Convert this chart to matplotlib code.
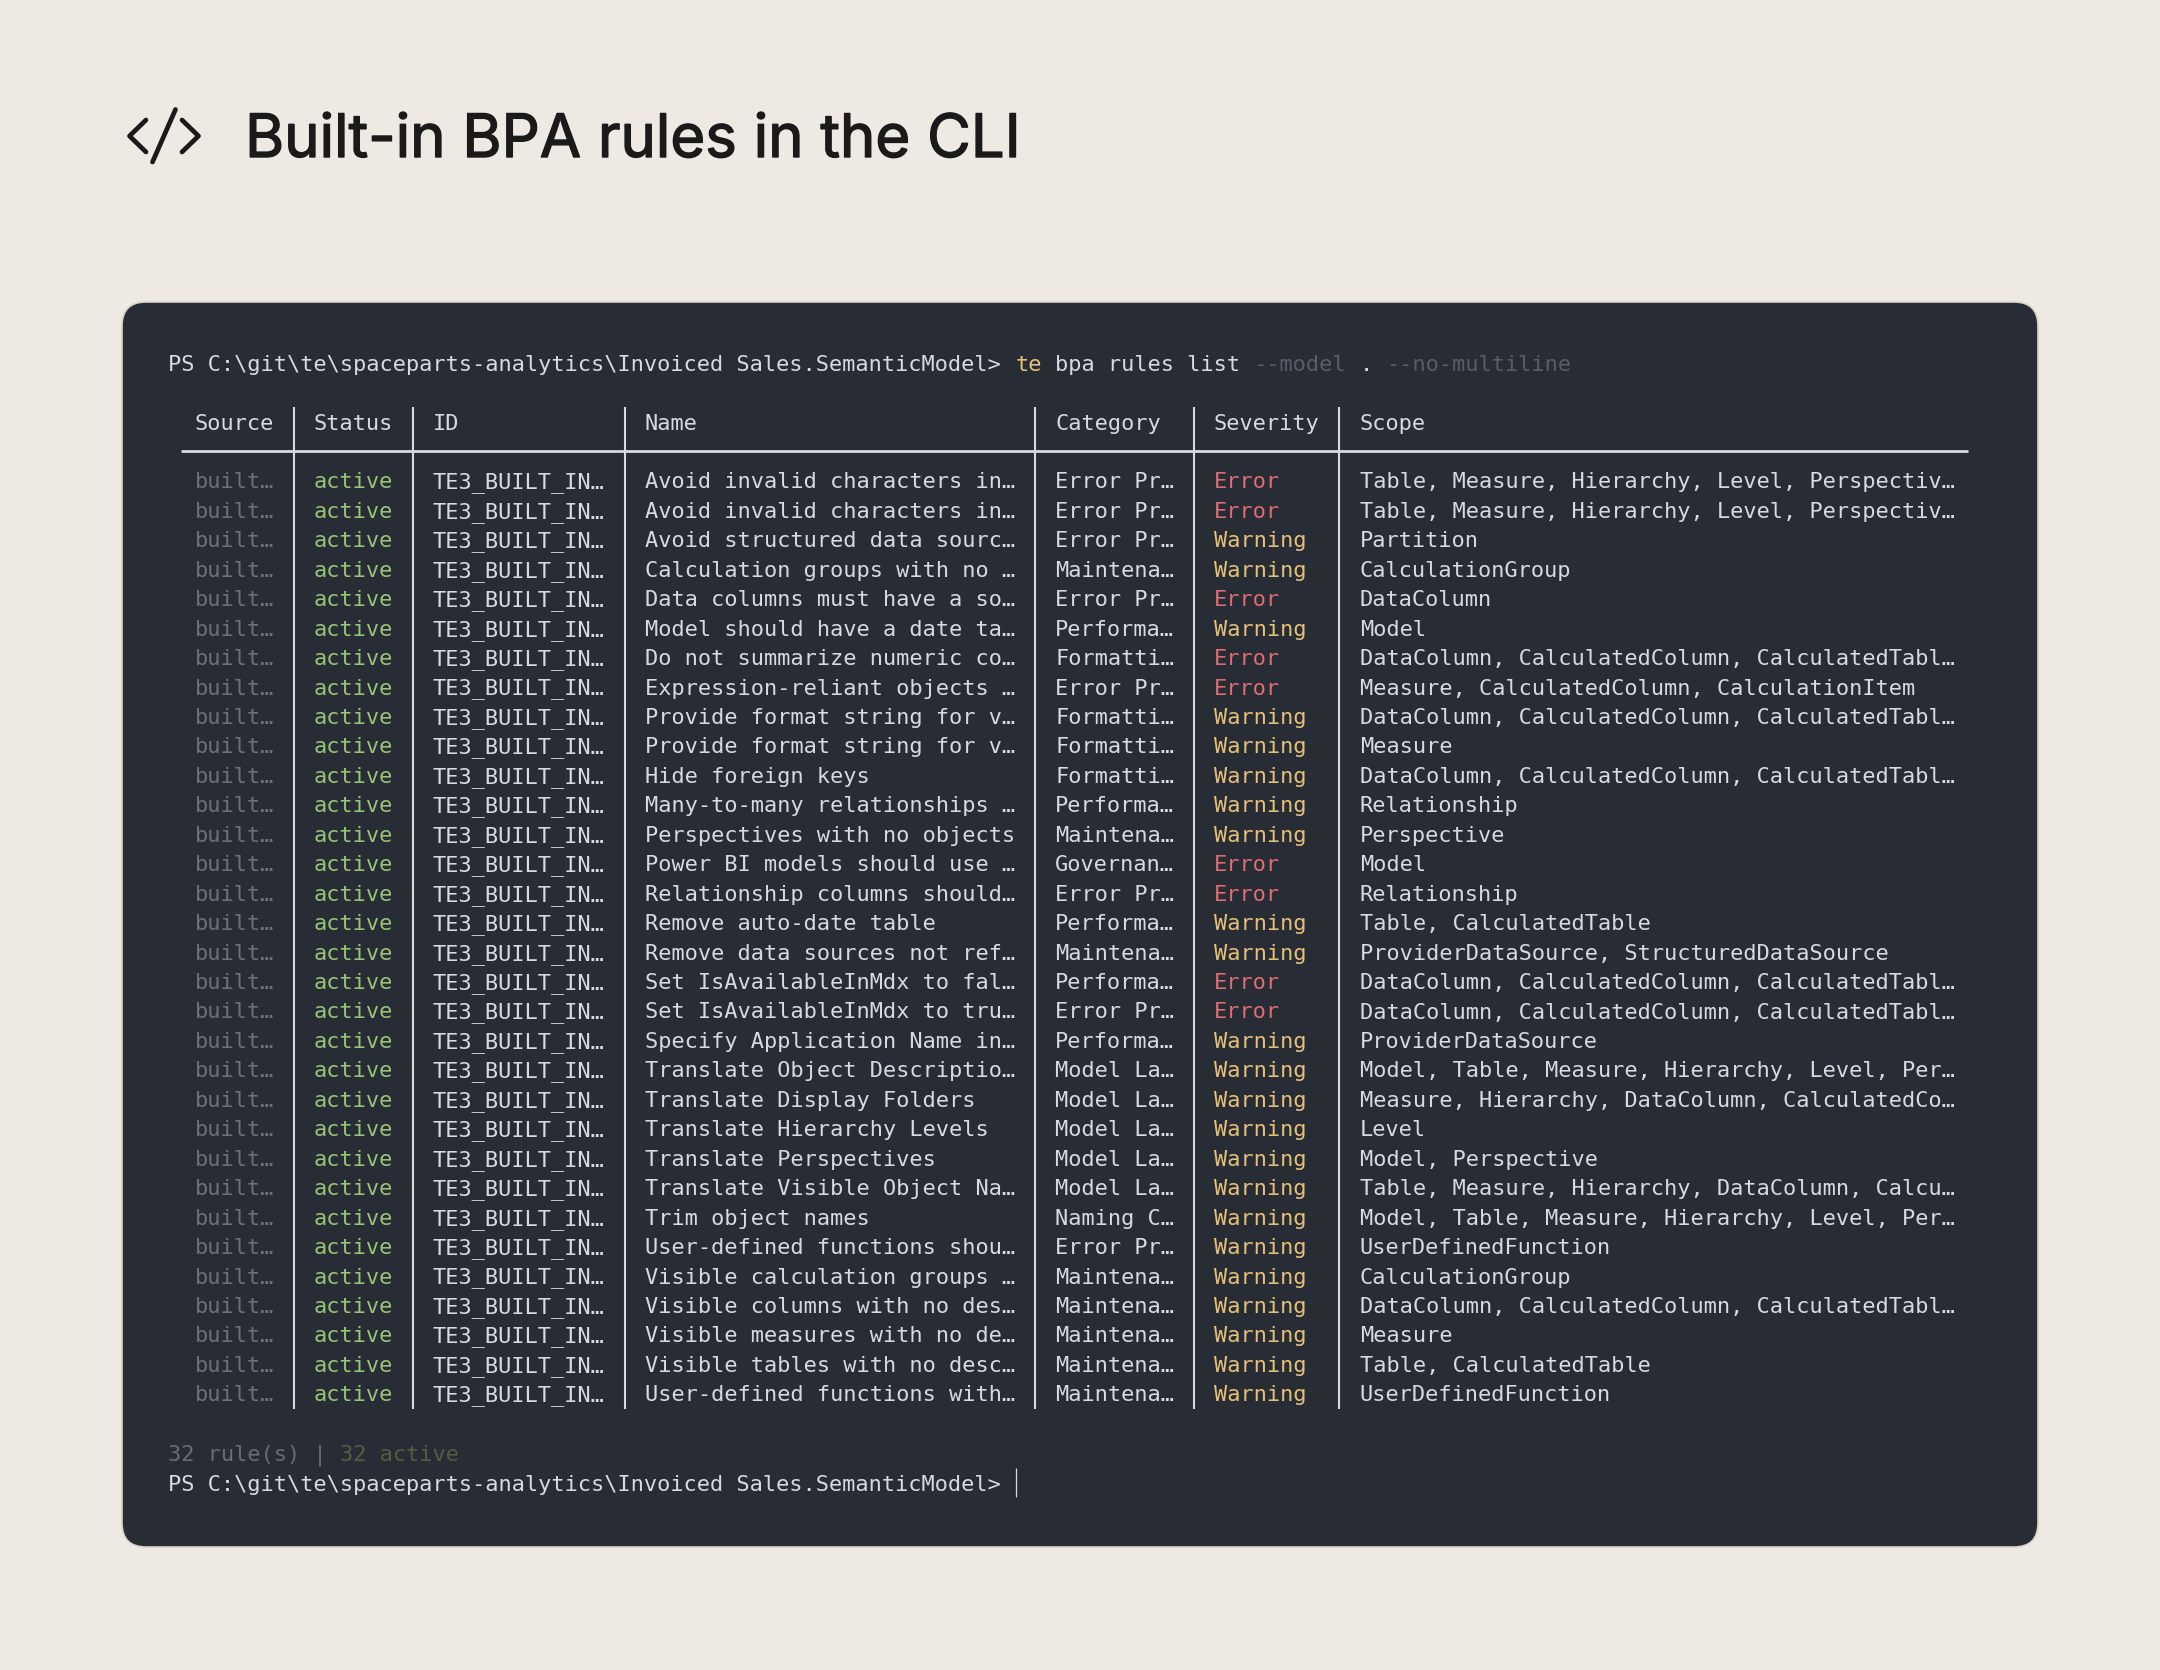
#!/usr/bin/env python3

"""Terminal screenshot style card: built-in BPA rules listed by the CLI."""

import matplotlib

matplotlib.use("Agg")
import matplotlib.patheffects as pe
import matplotlib.pyplot as plt
from matplotlib.patches import FancyBboxPatch

TITLE = "Built-in BPA rules in the CLI"
PROMPT = r"PS C:\git\te\spaceparts-analytics\Invoiced Sales.SemanticModel>"

HEADERS = ["Source", "Status", "ID", "Name", "Category", "Severity", "Scope"]

NAMES = [
    "Avoid invalid characters in…",
    "Avoid invalid characters in…",
    "Avoid structured data sourc…",
    "Calculation groups with no …",
    "Data columns must have a so…",
    "Model should have a date ta…",
    "Do not summarize numeric co…",
    "Expression-reliant objects …",
    "Provide format string for v…",
    "Provide format string for v…",
    "Hide foreign keys",
    "Many-to-many relationships …",
    "Perspectives with no objects",
    "Power BI models should use …",
    "Relationship columns should…",
    "Remove auto-date table",
    "Remove data sources not ref…",
    "Set IsAvailableInMdx to fal…",
    "Set IsAvailableInMdx to tru…",
    "Specify Application Name in…",
    "Translate Object Descriptio…",
    "Translate Display Folders",
    "Translate Hierarchy Levels",
    "Translate Perspectives",
    "Translate Visible Object Na…",
    "Trim object names",
    "User-defined functions shou…",
    "Visible calculation groups …",
    "Visible columns with no des…",
    "Visible measures with no de…",
    "Visible tables with no desc…",
    "User-defined functions with…",
]

CATEGORIES = [
    "Error Pr…", "Error Pr…", "Error Pr…", "Maintena…", "Error Pr…", "Performa…",
    "Formatti…", "Error Pr…", "Formatti…", "Formatti…", "Formatti…", "Performa…",
    "Maintena…", "Governan…", "Error Pr…", "Performa…", "Maintena…", "Performa…",
    "Error Pr…", "Performa…", "Model La…", "Model La…", "Model La…", "Model La…",
    "Model La…", "Naming C…", "Error Pr…", "Maintena…", "Maintena…", "Maintena…",
    "Maintena…", "Maintena…",
]

SEVERITIES = [
    "Error", "Error", "Warning", "Warning", "Error", "Warning", "Error", "Error",
    "Warning", "Warning", "Warning", "Warning", "Warning", "Error", "Error", "Warning",
    "Warning", "Error", "Error", "Warning", "Warning", "Warning", "Warning", "Warning",
    "Warning", "Warning", "Warning", "Warning", "Warning", "Warning", "Warning", "Warning",
]

SCOPES = [
    "Table, Measure, Hierarchy, Level, Perspectiv…",
    "Table, Measure, Hierarchy, Level, Perspectiv…",
    "Partition",
    "CalculationGroup",
    "DataColumn",
    "Model",
    "DataColumn, CalculatedColumn, CalculatedTabl…",
    "Measure, CalculatedColumn, CalculationItem",
    "DataColumn, CalculatedColumn, CalculatedTabl…",
    "Measure",
    "DataColumn, CalculatedColumn, CalculatedTabl…",
    "Relationship",
    "Perspective",
    "Model",
    "Relationship",
    "Table, CalculatedTable",
    "ProviderDataSource, StructuredDataSource",
    "DataColumn, CalculatedColumn, CalculatedTabl…",
    "DataColumn, CalculatedColumn, CalculatedTabl…",
    "ProviderDataSource",
    "Model, Table, Measure, Hierarchy, Level, Per…",
    "Measure, Hierarchy, DataColumn, CalculatedCo…",
    "Level",
    "Model, Perspective",
    "Table, Measure, Hierarchy, DataColumn, Calcu…",
    "Model, Table, Measure, Hierarchy, Level, Per…",
    "UserDefinedFunction",
    "CalculationGroup",
    "DataColumn, CalculatedColumn, CalculatedTabl…",
    "Measure",
    "Table, CalculatedTable",
    "UserDefinedFunction",
]

BG = "#EEEAE3"
PANEL = "#282C34"
PANEL_EDGE = "#D9D3C8"
FG = "#D8DAE0"
DIM = "#6E7077"
FLAG = "#585D6A"
GREEN = "#98C379"
YELLOW = "#E5C07B"
RED = "#E06C75"
SUMMARY = "#696C72"
SUMMARY_GREEN = "#505F44"
SEVERITY_COLORS = {"Error": RED, "Warning": YELLOW}

CHAR_W = 13.24
TEXT_X0 = 168.0
MONO = {"family": "DejaVu Sans Mono", "fontsize": 15.82, "va": "baseline", "ha": "left"}


def put(ax, col, baseline, text, color):
    ax.text(TEXT_X0 + col * CHAR_W, baseline, text, color=color, **MONO)


def draw_icon(ax):
    style = dict(color="#1A1A1A", linewidth=3.4, solid_capstyle="round", solid_joinstyle="round")
    ax.plot([146, 129.5, 146], [120, 136, 152], **style)
    ax.plot([182, 198.5, 182], [120, 136, 152], **style)
    ax.plot([175.5, 152.5], [109.5, 162], **style)


def main() -> None:
    # finer horizontal hinting keeps the advance close to the terminal cell width
    plt.rcParams["text.hinting_factor"] = 32
    fig = plt.figure(figsize=(21.6, 16.7), dpi=100, facecolor=BG)
    ax = fig.add_axes([0, 0, 1, 1])
    ax.set_xlim(0, 2160)
    ax.set_ylim(1670, 0)
    ax.axis("off")

    draw_icon(ax)
    ax.text(
        245, 157, TITLE,
        family="Inter", fontsize=43.1, color="#1A1A1A", va="baseline",
        path_effects=[pe.withStroke(linewidth=1.0, foreground="#1A1A1A")],
    )

    ax.add_patch(
        FancyBboxPatch(
            (146, 326), 1868, 1197,
            boxstyle="round,pad=24,rounding_size=24",
            facecolor=PANEL, edgecolor=PANEL_EDGE, linewidth=1.2,
        )
    )

    # command line, coloured token by token on the character grid
    put(ax, 0, 371, PROMPT, FG)
    put(ax, 64, 371, "te", YELLOW)
    put(ax, 67, 371, "bpa rules list", FG)
    put(ax, 82, 371, "--model", FLAG)
    put(ax, 90, 371, ".", FG)
    put(ax, 92, 371, "--no-multiline", FLAG)

    # table rules
    for x in [293.5, 413, 625, 1035, 1193.5, 1339]:
        ax.plot([x, x], [407, 1409], color=FG, linewidth=1.5, solid_capstyle="butt")
    ax.plot([181, 1968], [451, 451], color=FG, linewidth=2.0, solid_capstyle="butt")

    columns = [2, 11, 20, 36, 67, 79, 90]
    for col, header in zip(columns, HEADERS):
        put(ax, col, 430, header, FG)

    for i, name in enumerate(NAMES):
        y = 488.4 + i * 29.45
        put(ax, columns[0], y, "built…", DIM)
        put(ax, columns[1], y, "active", GREEN)
        put(ax, columns[2], y, "TE3_BUILT_IN…", FG)
        put(ax, columns[3], y, name, FG)
        put(ax, columns[4], y, CATEGORIES[i], FG)
        put(ax, columns[5], y, SEVERITIES[i], SEVERITY_COLORS[SEVERITIES[i]])
        put(ax, columns[6], y, SCOPES[i], FG)

    # footer
    put(ax, 0, 1461, "32 rule(s) |", SUMMARY)
    put(ax, 13, 1461, "32 active", SUMMARY_GREEN)
    put(ax, 0, 1491, PROMPT, FG)
    ax.plot([1015.5, 1015.5], [1468, 1497], color=FG, linewidth=0.9, solid_capstyle="butt")

    fig.savefig("out.png", dpi=100, facecolor=BG)
    plt.close(fig)


if __name__ == "__main__":
    main()
